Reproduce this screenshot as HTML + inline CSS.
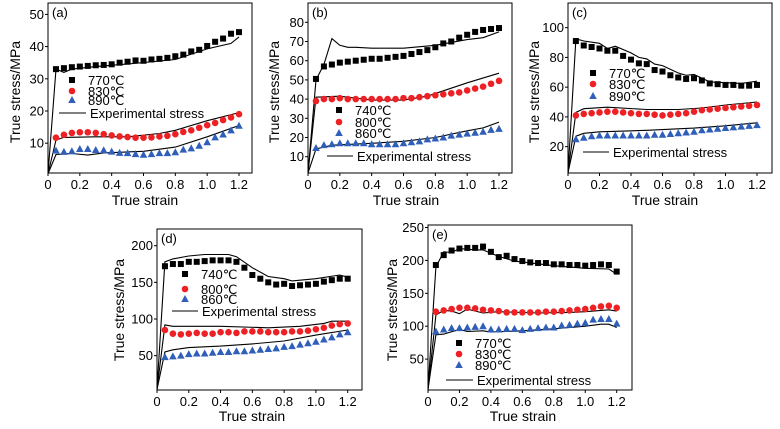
<!DOCTYPE html>
<html><head><meta charset="utf-8"><style>
body{margin:0;background:#fff;}
svg{display:block;font-family:"Liberation Sans",Arial,sans-serif;}
</style></head><body>
<svg id="fig" width="780" height="429" viewBox="0 0 780 429" xmlns="http://www.w3.org/2000/svg"></svg>
<script>
// ---- data ----
const strainPts = [0.05,0.1,0.15,0.2,0.25,0.3,0.35,0.4,0.45,0.5,0.55,0.6,0.65,0.7,0.75,0.8,0.85,0.9,0.95,1.0,1.05,1.1,1.15,1.2];
const xTicks = [0,0.2,0.4,0.6,0.8,1.0,1.2];
const xTickLabels = ["0","0.2","0.4","0.6","0.8","1.0","1.2"];

const aLabels = ["770℃","830℃","890℃"];
const aS1 = [33,33.3,33.6,33.8,34,34.2,34.3,34.5,35,35.3,35.7,35.6,36,36.2,36.5,37,37.5,38.5,39,40.2,41.5,42.5,44,44.5];
const aS2 = [11.7,12.6,13.2,13.4,13.4,13.2,12.8,12.4,12.1,11.9,11.7,11.7,11.8,12.1,12.3,12.8,13.5,14,14.8,15.6,16.3,17.2,18,19];
const aS3 = [7.7,7.3,7.5,8.2,8.2,7.9,7.8,7.4,7,6.9,6.6,6.4,6.6,6.9,6.9,7.2,8,8.4,9.2,10.3,11.8,12.7,14,15.4];
const aL1x = [0,0.05,0.1,0.15,0.3,0.55,0.8,1.0,1.15,1.2], aL1y = [0.5,33,32,33,33.8,34.8,36,39.3,41,43];
const aL2x = [0,0.05,0.1,0.3,0.5,0.7,0.8,1.0,1.2], aL2y = [0.5,11,11.8,12,12,13,14,17,19.5];
const aL3x = [0,0.05,0.15,0.25,0.35,0.6,0.8,1.0,1.2], aL3y = [0.5,6.5,6.8,6.3,7,7.5,8.8,12,15.5];
const aYTicks = [10,20,30,40,50];

const bLabels = ["740℃","800℃","860℃"];
const bS1 = [50.5,57,58,59,59.5,60,60.5,61,61,61.5,62,62.5,63.5,64.5,65.5,67,69,70,72,73.5,75,76,76.5,77];
const bS2 = [39,40,40,40.5,40,40,40,40,40,40,40,40.5,40.5,41,41.5,42,42.5,43,43.5,44.5,45.5,46.5,48,49.5];
const bS3 = [14.5,16,16.5,17,17,17,17,16.5,16.5,16.5,16.5,17,17.5,18,19,19.5,20,21,21.5,22,22.5,23,24,24.5];
const bL1x = [0,0.05,0.1,0.15,0.2,0.25,0.3,0.4,0.6,0.8,1.0,1.1,1.2], bL1y = [1.5,50,58,71.5,68,67,67,66.5,66.5,68,71,72,75];
const bL2x = [0,0.05,0.2,0.4,0.6,0.75,1.0,1.2], bL2y = [1.5,41,41.5,39.5,39.5,41.5,48.5,53.5];
const bL3x = [0,0.05,0.15,0.4,0.6,0.8,1.0,1.1,1.2], bL3y = [1.5,14,16,17,18,20,23.5,25,28];
const bYTicks = [10,20,30,40,50,60,70,80];

const cLabels = ["770℃","830℃","890℃"];
const cS1 = [91,88,87,86,84.5,84.5,81,78.5,76,75.5,71.5,70.5,68,66.5,65.5,66,64.5,62.5,62,61.5,61.5,61,61,61.5];
const cS2 = [41,42,42.5,43,43.5,43.5,43,42.5,42,42,41.5,41,41.5,42,42.5,43.5,44.5,45,45.5,46,46.5,47,47.5,48];
const cS3 = [25,26,27,27.5,27.5,27.5,27.5,27.5,27.5,27.5,28,28,28.5,29,29.5,30,31,31.5,32,32.5,33,33.5,34,34.5];
const cL1x = [0,0.05,0.1,0.2,0.25,0.3,0.4,0.45,0.5,0.55,0.6,0.7,0.75,0.8,0.9,1.0,1.1,1.2], cL1y = [2.5,92.5,91,89.5,86,87.5,83,80,79,75.5,74.5,69.5,68,68.5,63.5,63,62.5,64];
const cL2x = [0,0.05,0.1,0.25,0.5,0.7,0.85,1.0,1.2], cL2y = [2.5,43,45.5,46.5,45,45,46,48,50];
const cL3x = [0,0.05,0.1,0.2,0.5,0.8,1.0,1.2], cL3y = [2.5,27,29,30,31,32.5,34,36];
const cYTicks = [20,40,60,80,100];

const dLabels = ["740℃","800℃","860℃"];
const dS1 = [172,175,175,178,178,179,180,180,180,178,170,160,155,150,147,148,145,146,147,148,151,153,155,155];
const dS2 = [85,80,79,80,81,80,80,82,82,81,83,83,83,82,82,82,83,83,84,86,88,91,93,94];
const dS3 = [48,49,50,52,53,53,54,55,55,56,56,57,58,59,60,62,63,65,67,69,72,75,79,82];
const dL1x = [0,0.05,0.1,0.2,0.3,0.45,0.5,0.6,0.7,0.8,0.85,1.0,1.15,1.2], dL1y = [4,178,182,186,188,188,185,170,158,155,152,155,160,157];
const dL2x = [0,0.05,0.1,0.4,0.7,0.9,1.05,1.1,1.2], dL2y = [4,92,90,90,88,90,94,97,97];
const dL3x = [0,0.05,0.1,0.2,0.4,0.6,0.8,1.0,1.2], dL3y = [4,55,58,61,63,66,70,78,85];
const dYTicks = [50,100,150,200];

const eLabels = ["770℃","830℃","890℃"];
const eS1 = [193,208,215,218,219,219,221,213,205,207,202,199,197,196,196,194,194,193,193,192,193,194,193,183];
const eS2 = [122,124,126,128,128,127,125,124,123,121,121,121,121,121,122,122,123,124,125,126,128,130,131,128];
const eS3 = [92,95,97,97,98,99,100,95,95,96,96,94,96,97,98,98,101,102,104,105,110,111,111,104];
const eL1x = [0,0.05,0.1,0.15,0.2,0.25,0.3,0.35,0.45,0.55,0.8,1.0,1.15,1.2], eL1y = [4,190,213,212,218,217,216,216,206,199,192,188,187,179];
const eL2x = [0,0.05,0.1,0.15,0.2,0.25,0.35,0.45,0.7,0.9,1.0,1.15,1.2], eL2y = [4,117,124,123,119,126,120,122,120,121,122,125,123];
const eL3x = [0,0.05,0.1,0.2,0.25,0.35,0.4,0.6,0.8,1.0,1.1,1.15,1.2], eL3y = [4,87,88,95,92,93,91,93,96,100,103,103,98];
const eYTicks = [50,100,150,200,250];

// ---- drawing ----
const NS = "http://www.w3.org/2000/svg";
const svg = document.getElementById('fig');
function mk(tag, attrs, parent){
  const el = document.createElementNS(NS, tag);
  for (const k in attrs) el.setAttribute(k, attrs[k]);
  (parent||svg).appendChild(el);
  return el;
}
const COLORS = ["#000000","#ee2024","#2f5fb8"];
function marker(g, kind, cx, cy){
  let el;
  if (kind===0){ el = mk('rect',{x:cx-3,y:cy-3,width:6,height:6,fill:COLORS[0]},g); }
  else if (kind===1){ el = mk('circle',{cx:cx,cy:cy,r:3.3,fill:COLORS[1]},g); }
  else { el = mk('polygon',{points:`${cx},${cy-4} ${cx-3.8},${cy+3} ${cx+3.8},${cy+3}`,fill:COLORS[2]},g); }
  return el;
}
function panel(p){
  const g = mk('g',{});
  
  
  const X = v => p.x0 + v*(p.x12-p.x0)/1.2;
  const Y = v => p.yZero - v*p.ppu;
  const cid = 'clip-'+p.id;
  const cp = mk('clipPath',{id:cid},g);
  mk('rect',{x:p.L,y:p.T,width:p.R-p.L,height:p.B-p.T},cp);
  const fr = mk('rect',{x:p.L,y:p.T,width:p.R-p.L,height:p.B-p.T,fill:'none',stroke:'#000','stroke-width':1},g);
  
  
  xTicks.forEach((t,i)=>{
    const x = X(t);
    mk('line',{x1:x,y1:p.B,x2:x,y2:p.B+3,stroke:'#000'},g);
    const tx = mk('text',{x:x,y:p.B+16,'font-size':13,'text-anchor':'middle'},g);
    tx.textContent = xTickLabels[i];
    
    
  });
  p.yTicks.forEach(t=>{
    const y = Y(t);
    mk('line',{x1:p.L-3,y1:y,x2:p.L,y2:y,stroke:'#000'},g);
    const tx = mk('text',{x:p.L-4,y:y+4.5,'font-size':13,'text-anchor':'end'},g);
    tx.textContent = String(t);
    
    
  });
  const xt = mk('text',{x:p.xtX,y:p.xtY,'font-size':14,'text-anchor':'middle'},g);
  xt.textContent = 'True strain';
  
  
  const yt = mk('text',{x:0,y:0,'font-size':14,'text-anchor':'middle',transform:`translate(${p.ytX},${p.ytY}) rotate(-90)`},g);
  yt.textContent = 'True stress/MPa';
  
  
  const pl = mk('text',{x:p.L+4,y:p.T+14,'font-size':13},g);
  pl.textContent = '('+p.id+')';
  
  
  const inner = mk('g',{'clip-path':`url(#${cid})`},g);
  p.lines.forEach((ln,k)=>{
    const pts = ln[0].map((v,i)=>X(v).toFixed(1)+','+Y(ln[1][i]).toFixed(1)).join(' ');
    const el = mk('polyline',{points:pts,fill:'none',stroke:'#000','stroke-width':1.1},inner);
    
    
  });
  p.series.forEach((s,k)=>{
    s.forEach((v,i)=>{
      const m = marker(inner,k,X(strainPts[i]),Y(v));
      
      
    });
  });
  const lg = mk('g',{},g);
  
  
  p.legRows.forEach((ry,k)=>{
    marker(lg,k,p.legMX,ry);
    const t = mk('text',{x:p.legMX+16,y:ry+5,'font-size':13},lg);
    t.textContent = p.labels[k];
    
    
  });
  mk('line',{x1:p.legL1,y1:p.legLY,x2:p.legL2,y2:p.legLY,stroke:'#000','stroke-width':1.1},lg);
  const lt = mk('text',{x:p.legL2+4,y:p.legLY+5,'font-size':13},lg);
  lt.textContent = 'Experimental stress';
  
  
}

panel({id:'a',L:48,R:252,T:3,B:173,x0:48,x12:239,yZero:175.4,ppu:3.22,yTicks:aYTicks,
  series:[aS1,aS2,aS3],lines:[[aL1x,aL1y],[aL2x,aL2y],[aL3x,aL3y]],labels:aLabels,
  legMX:72,legRows:[80,91,100],legL1:59,legL2:86,legLY:113,xtX:145,xtY:205,ytX:20,ytY:92});
panel({id:'b',L:308,R:512,T:3,B:173,x0:308,x12:499,yZero:175.9,ppu:1.92,yTicks:bYTicks,
  series:[bS1,bS2,bS3],lines:[[bL1x,bL1y],[bL2x,bL2y],[bL3x,bL3y]],labels:bLabels,
  legMX:339,legRows:[110,122,133],legL1:327,legL2:353,legLY:156,xtX:406,xtY:205,ytX:279,ytY:92});
panel({id:'c',L:568,R:772,T:3,B:173,x0:568,x12:757,yZero:176.4,ppu:1.4875,yTicks:cYTicks,
  series:[cS1,cS2,cS3],lines:[[cL1x,cL1y],[cL2x,cL2y],[cL3x,cL3y]],labels:cLabels,
  legMX:593,legRows:[73,84,96],legL1:583,legL2:609,legLY:152,xtX:665,xtY:205,ytX:539,ytY:92});
panel({id:'d',L:157,R:362,T:229,B:390,x0:157,x12:347.7,yZero:392.3,ppu:0.733,yTicks:dYTicks,
  series:[dS1,dS2,dS3],lines:[[dL1x,dL1y],[dL2x,dL2y],[dL3x,dL3y]],labels:dLabels,
  legMX:185,legRows:[274,289,299],legL1:172,legL2:198,legLY:311,xtX:252,xtY:421,ytX:124,ytY:310});
panel({id:'e',L:428,R:632,T:225,B:390,x0:428,x12:616.7,yZero:392,ppu:0.658,yTicks:eYTicks,
  series:[eS1,eS2,eS3],lines:[[eL1x,eL1y],[eL2x,eL2y],[eL3x,eL3y]],labels:eLabels,
  legMX:459,legRows:[343,354,365],legL1:446,legL2:473,legLY:380,xtX:523,xtY:421,ytX:397,ytY:310});
</script>
</body></html>
